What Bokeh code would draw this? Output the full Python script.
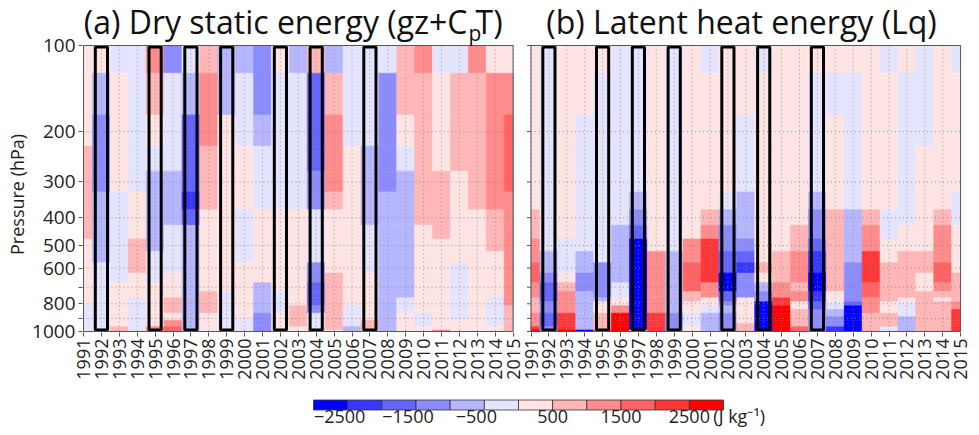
import math
from bokeh.plotting import figure
from bokeh.models import Range1d, FixedTicker, ColumnDataSource
from bokeh.layouts import column, row
from bokeh.embed import file_html
from bokeh.resources import INLINE
from bokeh.core.properties import value
from bokeh.transform import linear_cmap

FONT = "Open Sans"

YEARS = list(range(1991, 2016))
LEVELS = [100, 150, 200, 250, 300, 350, 400, 450, 500, 550, 600, 650, 700,
          750, 775, 800, 825, 850, 875, 900, 925, 950, 975, 1000]
PRESSURE_TICKS = [100, 200, 300, 400, 500, 600, 700, 800, 900, 1000]
PRESSURE_TICK_LABELS = ["100", "200", "300", "400", "500", "600", "", "800", "", "1000"]
PRESSURE_GRID = [200, 300, 400, 500, 600, 700, 800, 900]
HIGHLIGHT_YEARS = [1992, 1995, 1997, 1999, 2002, 2004, 2007]
CB_BOUNDS = [-3000, -2500, -2000, -1500, -1000, -500, 0, 500, 1000, 1500, 2000, 2500, 3000]
CB_TICKS = [-2500, -1500, -500, 500, 1500, 2500]
CB_TICK_LABELS = ["\u22122500", "\u22121500", "\u2212500", "500", "1500", "2500"]
PALETTE = ["#0000ff", "#3737ff", "#6464ff", "#8c8cff", "#b6b6ff", "#e4e4ff",
           "#ffe4e4", "#ffb6b6", "#ff8c8c", "#ff6464", "#ff3737", "#ff0000"]
TITLE_A = ["(a) Dry static energy (gz+C", "p", "T)"]
TITLE_B = "(b) Latent heat energy (Lq)"
Y_LABEL = "Pressure (hPa)"
UNIT_LABEL = "(J kg\u207b\u00b9)"

# ---- (a) Dry static energy, J/kg, per year, levels 100 -> 1000 hPa ----
dse_1991 = [250, 250, 250, 750, 750, 750, 750, 750, 250, 250, 250, 250, 250, 250, 250, 250, -250, -250, -250, -250, -250, -250, -250, 250]
dse_1992 = [250, -750, -1250, -1250, -1250, -750, -750, -750, -750, -750, -250, -250, -250, -250, -250, -250, -250, -250, -250, -250, -250, -250, -250, -250]
dse_1993 = [-250, 250, 250, 250, 250, -250, -250, -250, -250, -250, -250, -250, 250, 250, 250, 250, 250, 250, 250, 250, 250, 250, 750, 750]
dse_1994 = [-250, -250, -250, -250, -250, 250, 250, 250, 750, 750, 750, 250, 250, 250, -250, -250, -250, -250, -250, -250, -250, -250, -250, -250]
dse_1995 = [1250, 750, 250, -250, -750, -750, -750, -750, -750, -250, -250, -250, 250, 250, 250, 250, 250, 250, 250, 250, 250, 250, 1250, 1250]
dse_1996 = [-1250, -250, -250, -250, -750, -750, -750, -250, -250, -250, -250, 250, 250, 250, 750, 750, 750, 750, 250, 250, 1250, 1250, 1750, 1750]
dse_1997 = [-250, -750, -1750, -1750, -1750, -2250, -1750, -750, -750, -750, -750, -750, -750, -750, -750, -750, -750, -750, -750, -750, -750, -750, -750, -750]
dse_1998 = [750, 1250, 1250, 750, 750, 750, 250, 250, 250, 250, 250, 250, 250, 750, 750, 750, 750, 750, 250, 250, 250, 250, 250, 250]
dse_1999 = [-750, -750, 250, 250, 250, 250, 250, 250, 250, 250, 250, 250, 250, -250, -250, -250, -250, -250, -250, -250, -250, -250, -250, -250]
dse_2000 = [-750, -250, -250, 250, 250, 250, -250, -250, -250, -250, 250, 250, 250, 250, 250, 250, 250, 250, 250, 250, -250, -250, -250, -250]
dse_2001 = [-1250, -1250, -750, -250, -250, -250, 250, 250, 250, 250, 250, 250, -750, -750, -750, -750, -750, -750, -1250, -1250, -1250, -1250, -1250, -1250]
dse_2002 = [250, -250, -250, -250, -250, -250, 250, 250, 250, 250, 250, 250, 250, -250, -250, -250, -250, -250, 250, 250, 250, 250, 250, 250]
dse_2003 = [-750, -250, -250, -250, -250, -250, 250, 250, 250, 250, 250, 250, 250, 250, 250, 250, 750, 750, 750, 750, 750, 750, 250, 250]
dse_2004 = [750, -1750, -1750, -1750, -1250, -1250, -250, -250, -250, -250, -1250, -1250, -1750, -1750, -1750, -1750, -1250, -1250, -250, -250, -250, -250, -250, 750]
dse_2005 = [-750, 750, 1250, 1250, 1250, 750, 250, 250, 250, 250, 250, 750, 750, 750, 750, 750, 750, 750, 750, 750, 750, 750, 750, 250]
dse_2006 = [-250, -250, -250, 250, 250, 250, 250, 250, 250, 250, 250, 250, 250, 250, 250, 250, -250, -250, -250, -250, -250, -250, -750, -750]
dse_2007 = [-250, -250, -250, -750, -750, -750, -750, -250, -250, -250, -250, 250, 250, 250, 250, 250, 250, 250, 250, 250, 750, 750, 750, 750]
dse_2008 = [-250, -1250, -1250, -1250, -1250, -750, -750, -750, -750, -750, -750, -750, -750, -750, -750, -750, -750, -750, -750, -750, -750, -750, -750, -750]
dse_2009 = [750, 750, 250, -250, -750, -750, -750, -750, -750, -750, -750, -750, -750, -750, -250, -250, -250, -250, 250, 250, 250, 250, 250, 250]
dse_2010 = [1250, 750, 750, 750, 750, 750, 750, 250, 250, 250, 250, 250, 250, 250, 250, 250, 250, 250, -250, -250, -250, -250, 250, 250]
dse_2011 = [-250, 250, 250, 250, 750, 750, 750, 750, 250, 250, 250, 250, 250, 250, 250, 250, 250, 250, 250, 250, 250, 250, 250, 1250]
dse_2012 = [-250, 750, 750, 750, 250, 250, 250, 250, 250, 250, -250, -250, -250, -250, -250, -250, -250, -250, -250, -250, 250, 250, 250, 250]
dse_2013 = [1250, 750, 750, 750, 750, 750, 250, 250, 250, 250, 250, 250, 250, 250, 250, 250, 250, 250, 250, 250, 250, 250, 250, 250]
dse_2014 = [250, 1250, 1250, 1250, 1250, 1250, 750, 750, 750, 250, 250, 250, 250, 250, -250, -250, -250, -250, -250, -250, -250, -250, 250, 250]
dse_2015 = [250, 1250, 1750, 1750, 1750, 1250, 1250, 1250, 1250, 1250, 1250, 1250, 1250, 1250, 1250, 1250, 750, 750, 750, 750, 750, 750, 750, 750]

# ---- (b) Latent heat energy, J/kg ----
lq_1991 = [250, 250, 250, 250, 250, 250, 750, 750, 1250, 1250, 1750, 1750, 1250, 1250, 750, 750, 750, 750, 1250, 1250, 1250, 1250, 2250, 2750]
lq_1992 = [-250, -250, -250, -250, -250, -250, -250, -250, -250, -750, -750, -1250, -1750, -1750, -1750, -1250, -1250, -1250, -1750, -1750, -1750, -1750, -1250, -1250]
lq_1993 = [250, 250, 250, 250, 250, 250, 250, 250, -250, -250, -250, 250, 750, 1250, 1250, 1250, 1250, 1250, 2250, 2250, 2250, 2250, 2250, 2750]
lq_1994 = [250, 250, -250, -250, -250, -250, -250, -250, -250, -750, -750, -1250, -1250, -750, -750, -750, -750, -750, -750, -750, -750, -750, -750, -2750]
lq_1995 = [250, -250, -250, -250, -250, -250, -250, -250, -250, -250, -1250, -1250, -1250, -1250, -750, 250, 250, 250, 750, 750, 750, 750, 750, 1750]
lq_1996 = [-250, -250, -250, -250, -250, -250, -250, -750, -750, -750, -750, -750, -250, -250, 250, 250, 1250, 1250, 2750, 2750, 2750, 2750, 2750, 2750]
lq_1997 = [-250, -250, -250, -250, -250, -750, -1250, -1750, -2750, -2750, -2750, -2750, -2750, -2750, -2750, -2750, -2750, -2750, -2750, -2750, -2750, -2750, -2750, 250]
lq_1998 = [250, 250, 250, 250, 250, 250, 250, 250, 250, 1250, 1250, 1250, 1250, 1250, 1250, 1250, 1250, 1250, 2250, 2250, 2250, 2250, 2250, 2250]
lq_1999 = [-250, -250, -250, -250, -250, -250, -250, -250, -250, -750, -750, -750, -750, -750, -750, -750, -750, -750, -1250, -1250, -1250, -1250, -1250, -1250]
lq_2000 = [250, 250, 250, 250, 250, 250, 250, 250, 1250, 1250, 1750, 1750, 1750, 750, 750, 250, 250, 250, -250, -250, -250, -250, 250, 250]
lq_2001 = [-250, 250, 250, 250, 250, 250, 750, 1250, 2250, 2250, 2250, 2250, 1250, 1250, 250, 250, -250, -250, -750, -750, -750, -750, -750, -750]
lq_2002 = [250, 250, 250, 250, 250, -250, -750, -1250, -1250, -1750, -1750, -2750, -2750, -1750, -1750, -1250, -750, -750, -1250, -1250, -1250, -1250, -1250, -1250]
lq_2003 = [250, 250, -250, -250, -250, -750, -750, -750, -1250, -1750, -2250, -1250, -1250, -1250, 250, 250, 250, 250, 250, 250, 250, 750, 750, 750]
lq_2004 = [-250, 250, 250, 250, 250, 250, 250, 250, 250, 250, 750, 250, -750, -1250, -1250, -2750, -2750, -2750, -2750, -2750, -2750, -2750, -2750, -2750]
lq_2005 = [250, 250, 250, 250, 250, 250, 250, 250, 250, 750, 750, 750, 1250, 1250, 2250, 2250, 2750, 2750, 2750, 2750, 2750, 2750, 2750, 2750]
lq_2006 = [250, 250, 250, 250, 250, 250, 250, 750, 750, 1250, 1250, 1250, 750, 1250, 1250, 250, 250, 750, 750, 750, 750, 750, 1750, 1750]
lq_2007 = [250, -250, -250, -250, -250, -750, -1250, -1250, -1750, -2250, -2250, -2750, -2750, -2250, -2250, -1750, -1750, -1250, -1250, -1250, -1250, -1250, -1250, -1250]
lq_2008 = [250, -250, 250, 250, 250, 250, 750, 750, 750, 750, 750, 750, 750, 250, 250, -250, -250, -750, -750, -1250, -1250, -1250, -2250, -2250]
lq_2009 = [250, -250, -250, -250, -250, -250, -750, -750, -750, -750, -1250, -1250, -1250, -1250, -1250, -1750, -2750, -2750, -2750, -2750, -2750, -2750, -2750, -2750]
lq_2010 = [250, 250, 250, 250, 250, 250, 750, 1250, 1250, 2250, 2250, 2250, 1750, 1750, 1250, 1250, 1250, 1250, 750, 750, 750, 750, 750, 750]
lq_2011 = [-250, 250, 250, 250, 250, 250, -250, -250, 250, 250, 750, 750, 750, 750, 750, 250, 250, 250, 750, 750, 750, 750, -250, -250]
lq_2012 = [250, -250, -250, -250, -250, -250, -250, 250, 250, 750, 750, 750, 750, 750, 250, -250, -250, -250, -250, -750, -750, -750, -750, -750]
lq_2013 = [-250, -250, -250, 250, 250, 250, 250, 250, 250, 750, 750, 250, 250, 750, 750, 750, 750, 750, 750, 750, 750, 750, 750, 750]
lq_2014 = [250, 250, 250, 250, 250, 250, 750, 1250, 1250, 1250, 1750, 1750, 1250, 750, 250, 750, 750, 750, 750, 750, 750, 750, 750, 750]
lq_2015 = [-250, 250, 250, 250, 250, -250, -250, 250, 250, 250, 250, 750, 750, 750, 750, 1250, 1250, 2250, 2250, 2250, 2250, 2250, 2250, 2250]

DSE = [dse_1991, dse_1992, dse_1993, dse_1994, dse_1995, dse_1996, dse_1997, dse_1998, dse_1999,
       dse_2000, dse_2001, dse_2002, dse_2003, dse_2004, dse_2005, dse_2006, dse_2007, dse_2008,
       dse_2009, dse_2010, dse_2011, dse_2012, dse_2013, dse_2014, dse_2015]
LQ = [lq_1991, lq_1992, lq_1993, lq_1994, lq_1995, lq_1996, lq_1997, lq_1998, lq_1999,
      lq_2000, lq_2001, lq_2002, lq_2003, lq_2004, lq_2005, lq_2006, lq_2007, lq_2008,
      lq_2009, lq_2010, lq_2011, lq_2012, lq_2013, lq_2014, lq_2015]

# cell edges between pressure levels (grid-fill style)
EDGES = [LEVELS[0]] + [(a + b) / 2 for a, b in zip(LEVELS[:-1], LEVELS[1:])] + [LEVELS[-1]]

# ---------------- layout geometry (page pixels) ----------------
W, H = 979, 435
LAB_W = 29                      # narrow strip holding the y-axis title
MAIN_H = 386
FRAME_L, FRAME_R = 80, 959      # frame of the combined plotting area
FRAME_T, FRAME_B = 5, 332
P100_PX, P1000_PX = 45, 331     # where 100 hPa / 1000 hPa sit
A_LEFT_PX = 81
PX = 17.9                       # pixels per year
B_OFF = 25                      # panel (b) is shifted by 25 year-units

X0 = YEARS[0] - (A_LEFT_PX - FRAME_L) / PX
X1 = X0 + (FRAME_R - FRAME_L) / PX
DEC = P1000_PX - P100_PX        # pixels per decade of pressure


def px_x(px):
    return X0 + (px - FRAME_L) / PX


def px_p(py):
    return 100.0 * 10 ** ((py - P100_PX) / DEC)


p = figure(frame_width=FRAME_R - FRAME_L, frame_height=FRAME_B - FRAME_T,
           x_range=Range1d(X0, X1), y_range=Range1d(px_p(FRAME_B), px_p(FRAME_T)),
           y_axis_type="log", output_backend="svg", toolbar_location=None,
           min_border_left=FRAME_L - LAB_W, min_border_right=W - FRAME_R,
           min_border_top=FRAME_T, min_border_bottom=MAIN_H - FRAME_B,
           outline_line_color=None, background_fill_color="white", border_fill_color="white")
p.grid.visible = False

cmap = linear_cmap("val", PALETTE, low=CB_BOUNDS[0], high=CB_BOUNDS[-1])
GRID_KW = dict(line_color="#8a8a8a", line_dash="1 3", line_alpha=0.85, line_width=1)

xticks, xlabels = [], {}
for data, off in ((DSE, 0), (LQ, B_OFF)):
    lo, hi = YEARS[0] + off, YEARS[-1] + off
    src = dict(left=[], right=[], top=[], bottom=[], val=[])
    for yr, col in zip(YEARS, data):
        for i, v in enumerate(col):
            src["left"].append(max(yr - 0.5 + off, lo))
            src["right"].append(min(yr + 0.5 + off, hi))
            src["top"].append(EDGES[i])
            src["bottom"].append(EDGES[i + 1])
            src["val"].append(v)
    p.quad(left="left", right="right", top="top", bottom="bottom",
           source=ColumnDataSource(src), fill_color=cmap, line_color=cmap, line_width=0.6)
    # dotted grid
    gx = [yr + off for yr in YEARS]
    p.segment(x0=gx, x1=gx, y0=LEVELS[0], y1=LEVELS[-1], **GRID_KW)
    p.segment(x0=lo, x1=hi, y0=PRESSURE_GRID, y1=PRESSURE_GRID, **GRID_KW)
    # highlighted years
    p.quad(left=[y + off - 0.34 for y in HIGHLIGHT_YEARS], right=[y + off + 0.34 for y in HIGHLIGHT_YEARS],
           top=px_p(P100_PX + 1.5), bottom=px_p(P1000_PX - 1.5),
           fill_alpha=0, line_color="black", line_width=3)
    # panel outline
    p.quad(left=lo, right=hi, top=LEVELS[0], bottom=LEVELS[-1],
           fill_alpha=0, line_color="#555555", line_width=1)
    for yr in YEARS:
        xticks.append(yr + off)
        xlabels[yr + off] = str(yr)

# left ticks of panel (b)
p.segment(x0=YEARS[0] + B_OFF - 4 / PX, x1=YEARS[0] + B_OFF, y0=PRESSURE_TICKS, y1=PRESSURE_TICKS,
          line_color="#555555", line_width=1)

p.xaxis.ticker = FixedTicker(ticks=xticks)
p.xaxis.major_label_overrides = xlabels
p.xaxis.major_label_orientation = math.pi / 2
p.xaxis.major_label_standoff = 2
p.yaxis.ticker = FixedTicker(ticks=PRESSURE_TICKS)
p.yaxis.major_label_overrides = {t: l for t, l in zip(PRESSURE_TICKS, PRESSURE_TICK_LABELS)}
p.yaxis.major_label_standoff = 3
for ax in (p.xaxis, p.yaxis):
    ax.axis_line_color = None
    ax.major_tick_out = 4
    ax.major_tick_in = 0
    ax.minor_tick_out = 0
    ax.minor_tick_in = 0
    ax.major_tick_line_color = "#555555"
    ax.major_label_text_font = FONT
    ax.major_label_text_color = "#222222"
p.xaxis.major_label_text_font_size = "18px"
p.yaxis.major_label_text_font_size = "19px"

# panel titles (real text, subscript p drawn separately).
# the text glyph anchors a little above the alphabetic baseline, hence the offsets
TXT = dict(text_font=value(FONT), text_color="#111111", text_baseline="alphabetic")
p.text(x=[px_x(465)], y=[px_p(21)], text=[TITLE_A[0]], text_font_size="32px", text_align="right", **TXT)
p.text(x=[px_x(466)], y=[px_p(32)], text=[TITLE_A[1]], text_font_size="21px", text_align="left", **TXT)
p.text(x=[px_x(473)], y=[px_p(21)], text=[TITLE_A[2]], text_font_size="32px", text_align="left", **TXT)
p.text(x=[px_x(739)], y=[px_p(21)], text=[TITLE_B], text_font_size="32px", text_align="center", **TXT)

# y-axis title strip
pl = figure(width=LAB_W, height=MAIN_H, x_range=Range1d(0, LAB_W), y_range=Range1d(0, MAIN_H),
            output_backend="svg", toolbar_location=None, min_border=0,
            x_axis_location=None, y_axis_location=None, outline_line_color=None)
pl.grid.visible = False
pl.text(x=[16.5], y=[MAIN_H - 223], text=[Y_LABEL], angle=math.pi / 2, text_font=value(FONT),
        text_font_size="18px", text_align="center", text_baseline="middle", text_color="#222222")

# ---------------- colour bar ----------------
CB_H = H - MAIN_H
CB_LEFT_PX, CB_RIGHT_PX = 313, 723
scale = (CB_RIGHT_PX - CB_LEFT_PX) / (CB_BOUNDS[-1] - CB_BOUNDS[0])
cx0 = CB_BOUNDS[0] - CB_LEFT_PX / scale
cx1 = CB_BOUNDS[-1] + (W - CB_RIGHT_PX) / scale
pc = figure(width=W, height=CB_H, x_range=Range1d(cx0, cx1), y_range=Range1d(0, CB_H),
            output_backend="svg", toolbar_location=None, min_border=0,
            x_axis_location=None, y_axis_location=None, outline_line_color=None)
pc.grid.visible = False
pc.quad(left=CB_BOUNDS[:-1], right=CB_BOUNDS[1:], bottom=CB_H - 23.5, top=CB_H - 13.5,
        fill_color=PALETTE, line_color="#333333", line_width=0.8)
pc.text(x=CB_TICKS, y=[CB_H - 29.5] * len(CB_TICKS), text=CB_TICK_LABELS,
        x_offset=[-8 if t < 0 else 0 for t in CB_TICKS],
        text_font=value(FONT), text_font_size="18px", text_align="center",
        text_baseline="alphabetic", text_color="#222222")
pc.text(x=[CB_TICKS[-1]], y=[CB_H - 29.5], text=[UNIT_LABEL], x_offset=24,
        text_font=value(FONT), text_font_size="18px", text_align="left",
        text_baseline="alphabetic", text_color="#222222")

layout = column(row(pl, p), pc)
open("out.html", "w").write(file_html(layout, INLINE))
